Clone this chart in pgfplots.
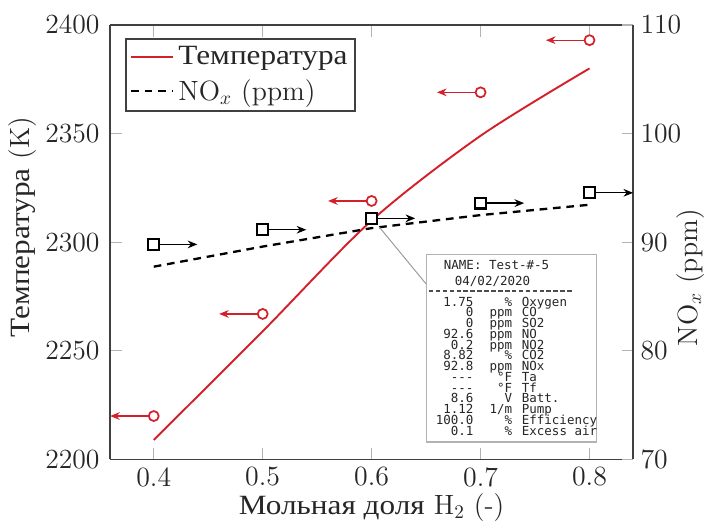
\documentclass[border=0pt]{standalone}
\usepackage{fontspec}
\usepackage{pgfplots}
\pgfplotsset{compat=1.18}
\usetikzlibrary{arrows.meta}
\newfontfamily\cyr{Liberation Serif}[FakeStretch=1.12]
\newfontfamily\mono{DejaVu Sans Mono}
\definecolor{tred}{RGB}{212,32,42}
\newcommand\lab{\fontsize{14.5}{17}\selectfont}
\newcommand\prn{\mono\fontsize{6.5}{5.6}\selectfont}
% one printout row, glyphs smashed so that rows keep a fixed pitch
\newcommand\prow[3]{\smash{#1} & \smash{#2} & \smash{#3}\\}

\pgfplotsset{
  base/.style={
    scale only axis, width=272pt, height=226pt,
    xmin=0.36, xmax=0.84, clip=false,
    axis line style={black!75, line width=0.9pt},
    tick align=inside, major tick length=6pt,
    every tick/.style={black!30, line width=0.6pt},
    tick label style={font=\lab, black!85},
    xticklabel style={yshift=-0.6pt},
    label style={font=\lab, black!85},
    /pgf/number format/1000 sep={},
  },
}

\begin{document}
\begin{tikzpicture}
% temperature, left axis
\begin{axis}[base, name=ax,
  axis y line*=left,
  ymin=2200, ymax=2400, ytick={2200,2250,...,2400},
  yticklabel style={xshift=-2pt},
  xtick={0.4,0.5,0.6,0.7,0.8},
  xticklabels={0.4,0.5,0.6,0.7,0.8},
  xlabel={{\cyr Мольная доля} H$_2$ (-)},
  xlabel style={at={(axis description cs:0.5,-0.111)}, anchor=center},
  ylabel={{\cyr Температура} (K)},
  ylabel style={at={(axis description cs:-0.168,0.535)}, anchor=center},
]
\addplot[tred, line width=1pt, smooth] coordinates {
  (0.4,2209)(0.5,2259)(0.6,2310)(0.7,2349)(0.8,2380)};
\addplot[tred, line width=0.7pt, quiver={u=-0.04, v=0},
  -{Stealth[length=5pt, width=4pt]}] coordinates {
  (0.4,2220)(0.5,2267)(0.6,2319)(0.7,2369)(0.8,2393)};
\addplot[only marks, mark=*, mark size=2.6pt,
  mark options={draw=tred, fill=white, line width=0.9pt}] coordinates {
  (0.4,2220)(0.5,2267)(0.6,2319)(0.7,2369)(0.8,2393)};
\end{axis}
% NOx, right axis
\begin{axis}[base,
  axis y line*=right, axis x line=none,
  ymin=70, ymax=110, ytick={70,80,...,110},
  yticklabel style={xshift=0.4pt},
  ylabel={NO$_x$ (ppm)},
  ylabel style={at={(axis description cs:1.109,0.418)}, anchor=center},
  legend style={at={(0.029,0.97)}, anchor=north west, draw=black!75,
    line width=0.9pt, font=\lab, text=black!85, inner sep=2pt,
    row sep=2pt, cells={anchor=west}},
  legend image code/.code={\draw[#1] (0pt,0pt) -- (22pt,0pt);},
]
\addlegendimage{tred, line width=1pt}
\addlegendentry{\cyr Температура}
\addplot[black, line width=1.2pt, dash pattern=on 4pt off 3pt] coordinates {
  (0.4,87.75)(0.5,89.6)(0.6,91.3)(0.7,92.5)(0.8,93.45)};
\addlegendentry{NO$_x$ (ppm)}
\addplot[black, line width=0.7pt, quiver={u=0.04, v=0}, forget plot,
  -{Stealth[length=5pt, width=4pt]}] coordinates {
  (0.4,89.8)(0.5,91.15)(0.6,92.2)(0.7,93.6)(0.8,94.55)};
\addplot[only marks, mark=square*, mark size=2.8pt, forget plot,
  mark options={draw=black, fill=white, line width=1.1pt}] coordinates {
  (0.4,89.8)(0.5,91.15)(0.6,92.2)(0.7,93.6)(0.8,94.55)};
% analyzer printout inset
\draw[gray!80, line width=0.5pt] (axis cs:0.607,91.4) -- (axis cs:0.6505,86.1);
\draw[gray!60, line width=0.8pt, fill=white]
  (axis cs:0.6505,88.85) rectangle (axis cs:0.8064,71.6);
\node[anchor=west, inner sep=0, font=\prn, black!85]
  at (axis cs:0.666,87.93) {NAME: Test-\#-5};
\node[anchor=west, inner sep=0, font=\prn, black!85]
  at (axis cs:0.6761,86.37) {04/02/2020};
\draw[black!70, line width=0.9pt, dash pattern=on 2.4pt off 1.2pt]
  (axis cs:0.6525,85.54) -- (axis cs:0.7835,85.54);
\node[anchor=north west, inner sep=0, black!85] at (axis cs:0.6585,84.85) {%
  \prn
  \begin{tabular}{@{}r@{\hspace{8.5pt}}r@{\hspace{5pt}}l@{}}
  \prow{1.75}{\%}{Oxygen}
  \prow{0}{ppm}{CO}
  \prow{0}{ppm}{SO2}
  \prow{92.6}{ppm}{NO}
  \prow{0.2}{ppm}{NO2}
  \prow{8.82}{\%}{CO2}
  \prow{92.8}{ppm}{NOx}
  \prow{-\kern0pt-\kern0pt-}{°F}{Ta}
  \prow{-\kern0pt-\kern0pt-}{°F}{Tf}
  \prow{8.6}{V}{Batt.}
  \prow{1.12}{1/m}{Pump}
  \prow{100.0}{\%}{Efficiency}
  \smash{0.1} & \smash{\%} & \smash{Excess air}
  \end{tabular}};
\end{axis}
\pgfresetboundingbox
\path[use as bounding box] ([xshift=-57.3pt,yshift=-32.8pt]ax.south west)
  rectangle ([xshift=40pt,yshift=13pt]ax.north east);
\end{tikzpicture}
\end{document}
